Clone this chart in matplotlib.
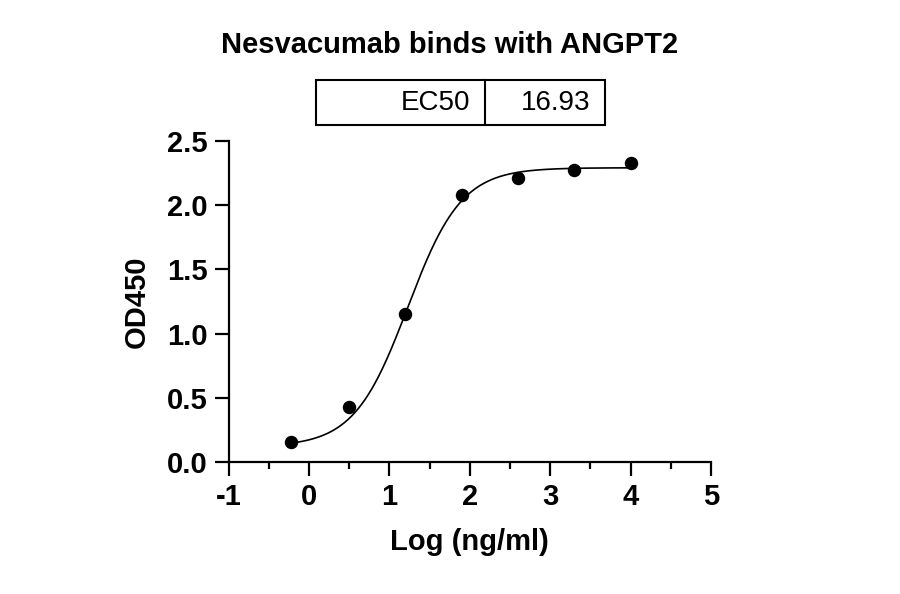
import numpy as np
import matplotlib
matplotlib.use("Agg")
import matplotlib.pyplot as plt

log_conc = [-0.22, 0.5, 1.2, 1.9, 2.6, 3.3, 4.0]
od450 = [0.16, 0.43, 1.15, 2.08, 2.21, 2.27, 2.33]
ec50 = 16.93
bottom, top, hill = 0.12, 2.29, 1.3
x_labels = ['-1', '0', '1', '2', '3', '4', '5']
y_labels = ['0.0', '0.5', '1.0', '1.5', '2.0', '2.5']

plt.rcParams['font.family'] = ['Liberation Sans', 'DejaVu Sans']
fig = plt.figure(figsize=(9, 5.94), dpi=100)
ax = fig.add_axes([0.254, 0.222, 0.536, 0.541])

xs = np.linspace(min(log_conc), max(log_conc), 300)
ys = bottom + (top - bottom) / (1 + 10 ** ((np.log10(ec50) - xs) * hill))
ax.plot(xs, ys, color='black', lw=1.2)
ax.scatter(log_conc, od450, color='black', s=75, zorder=3)

ax.set_xlim(-1, 5)
ax.set_ylim(0, 2.5)
ax.set_xticks(range(-1, 6))
ax.set_xticklabels(x_labels)
ax.set_yticks([0, 0.5, 1.0, 1.5, 2.0, 2.5])
ax.set_yticklabels(y_labels)
ax.set_xticks(np.arange(-0.5, 5, 1), minor=True)
for s in ['top', 'right']:
    ax.spines[s].set_visible(False)
for s in ['left', 'bottom']:
    ax.spines[s].set_linewidth(1.6)
ax.tick_params(axis='both', which='major', labelsize=21, width=1.6, length=10, pad=5)
ax.tick_params(axis='x', which='minor', width=1.6, length=5)
for lab in ax.get_xticklabels() + ax.get_yticklabels():
    lab.set_fontweight('bold')
ax.set_xlabel('Log (ng/ml)', fontsize=21, fontweight='bold', labelpad=12)
ax.set_ylabel('OD450', fontsize=21, fontweight='bold', labelpad=12)

fig.text(0.5, 0.925, 'Nesvacumab binds with ANGPT2', ha='center', va='center',
         fontsize=21, fontweight='bold')
x0, x1, xm = 316/900, 605/900, 485/900
y0, y1 = 1-125/594, 1-80/594
fig.add_artist(plt.Rectangle((x0, y0), x1-x0, y1-y0, fill=False, lw=1.5,
                             transform=fig.transFigure))
fig.add_artist(plt.Line2D([xm, xm], [y0, y1], color='black', lw=1.5,
                          transform=fig.transFigure))
fig.text(470/900, (y0+y1)/2, 'EC50', ha='right', va='center', fontsize=20)
fig.text(590/900, (y0+y1)/2, f'{ec50:.2f}', ha='right', va='center', fontsize=20)

fig.savefig('out.png', dpi=100)
